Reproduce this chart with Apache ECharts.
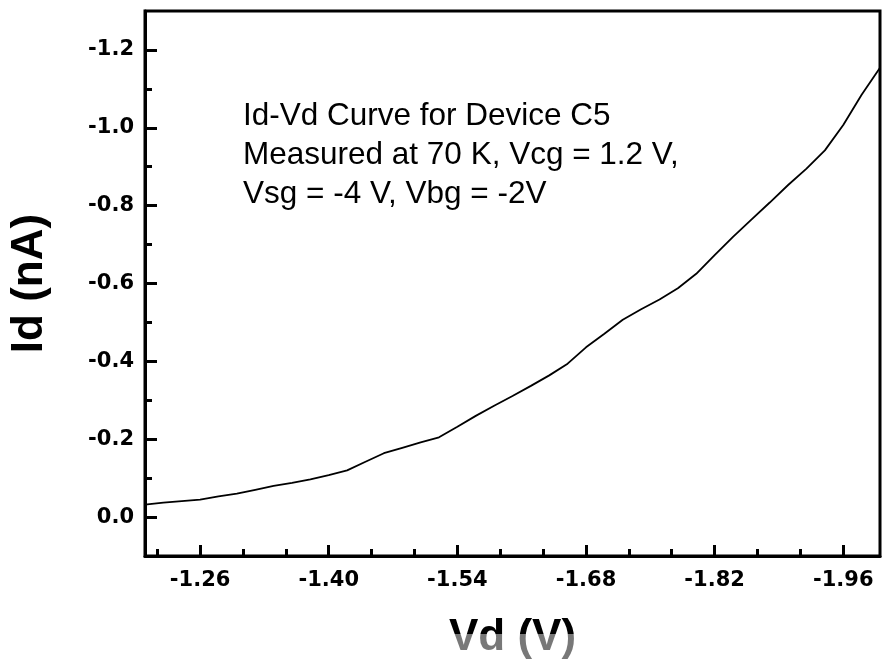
<!DOCTYPE html>
<html>
<head>
<meta charset="utf-8">
<script src="https://cdn.jsdelivr.net/npm/echarts@6/dist/echarts.min.js"></script>
<style>
  html, body { margin: 0; padding: 0; background: #fff; }
  #chart { width: 884px; height: 661px; }
</style>
</head>
<body>
<div id="chart"></div>
<script>
// Drain voltage sweep (V) and measured drain current (nA)
const vd = [
  -1.20, -1.22, -1.24, -1.26, -1.28, -1.30, -1.32, -1.34, -1.36, -1.38,
  -1.40, -1.42, -1.44, -1.46, -1.48, -1.50, -1.52, -1.54, -1.56, -1.58,
  -1.60, -1.62, -1.64, -1.66, -1.68, -1.70, -1.72, -1.74, -1.76, -1.78,
  -1.80, -1.82, -1.84, -1.86, -1.88, -1.90, -1.92, -1.94, -1.96, -1.98, -2.00
];
const id = [
  -0.032, -0.037, -0.041, -0.045, -0.053, -0.060, -0.070, -0.080, -0.088, -0.097,
  -0.108, -0.120, -0.142, -0.164, -0.178, -0.192, -0.205, -0.232, -0.260, -0.286,
  -0.311, -0.337, -0.364, -0.394, -0.436, -0.471, -0.507, -0.534, -0.559, -0.588,
  -0.625, -0.673, -0.720, -0.764, -0.808, -0.853, -0.895, -0.942, -1.007, -1.085, -1.154
];

// Axis ticks
const xMajorTicks = [-1.26, -1.40, -1.54, -1.68, -1.82, -1.96];
const xMinorTicks = [-1.2133, -1.3067, -1.3533, -1.4467, -1.4933, -1.5867,
                     -1.6333, -1.7267, -1.7733, -1.8667, -1.9133];
const yMajorTicks = [-1.2, -1.0, -0.8, -0.6, -0.4, -0.2, 0.0];
const yMinorTicks = [-1.1, -0.9, -0.7, -0.5, -0.3, -0.1];

// Annotation text
const noteLines = [
  'Id-Vd Curve for Device C5',
  'Measured at 70 K, Vcg = 1.2 V,',
  'Vsg = -4 V, Vbg = -2V'
];

const X_MIN = -2.0, X_MAX = -1.2;
const Y_MIN = -1.3, Y_MAX = 0.1;

const tickFont = {
  fontFamily: '"DejaVu Sans", sans-serif',
  fontWeight: 'bold',
  fontSize: 21,
  color: '#000'
};
const titleFont = {
  fontFamily: '"Liberation Sans", Arial, sans-serif',
  fontWeight: 'bold',
  fontSize: 44,
  color: '#000'
};

const chart = echarts.init(document.getElementById('chart'), null, { renderer: 'canvas' });

const option = {
  animation: false,
  backgroundColor: '#fff',
  grid: {
    left: 145, right: 4, top: 11, bottom: 105,
    outerBoundsMode: 'none',
    containLabel: false,
    show: true, borderColor: '#000', borderWidth: 3
  },
  xAxis: [
    {
      type: 'value', min: X_MIN, max: X_MAX, inverse: true, position: 'bottom',
      axisLine: { onZero: false, lineStyle: { color: '#000', width: 3 } },
      axisTick: { inside: true, length: 11, customValues: xMajorTicks,
                  lineStyle: { color: '#000', width: 3 } },
      axisLabel: Object.assign({ customValues: xMajorTicks, margin: 14,
                  formatter: v => v.toFixed(2) }, tickFont),
      splitLine: { show: false },
      name: 'Vd (V)', nameLocation: 'middle', nameGap: 60,
      nameTextStyle: titleFont
    },
    {
      type: 'value', min: X_MIN, max: X_MAX, inverse: true, position: 'bottom',
      axisLine: { show: false, onZero: false },
      axisTick: { inside: true, length: 7, customValues: xMinorTicks,
                  lineStyle: { color: '#000', width: 3 } },
      axisLabel: { show: false },
      splitLine: { show: false }
    }
  ],
  yAxis: [
    {
      type: 'value', min: Y_MIN, max: Y_MAX, inverse: true, position: 'left',
      axisLine: { onZero: false, lineStyle: { color: '#000', width: 3 } },
      axisTick: { inside: true, length: 12, customValues: yMajorTicks,
                  lineStyle: { color: '#000', width: 3 } },
      axisLabel: Object.assign({ customValues: yMajorTicks, margin: 11,
                  formatter: v => (Math.abs(v) < 1e-9 ? 0 : v).toFixed(1) }, tickFont),
      splitLine: { show: false },
      name: 'Id (nA)', nameLocation: 'middle', nameGap: 93, nameRotate: 90,
      nameTextStyle: titleFont
    },
    {
      type: 'value', min: Y_MIN, max: Y_MAX, inverse: true, position: 'left',
      axisLine: { show: false, onZero: false },
      axisTick: { inside: true, length: 7, customValues: yMinorTicks,
                  lineStyle: { color: '#000', width: 3 } },
      axisLabel: { show: false },
      splitLine: { show: false }
    }
  ],
  series: [
    {
      type: 'line',
      xAxisIndex: 0, yAxisIndex: 0,
      data: vd.map((v, i) => [v, id[i]]),
      showSymbol: false,
      smooth: false,
      lineStyle: { color: '#000', width: 1.8 },
      clip: true
    }
  ],
  graphic: noteLines.map((t, i) => ({
    type: 'text',
    x: 243,
    y: 116 + i * 39,
    style: {
      text: t,
      font: '31.5px "Liberation Sans", Arial, sans-serif',
      fill: '#000',
      textAlign: 'left',
      textVerticalAlign: 'middle'
    }
  })).concat([
    {
      // washed-out lower band across the x-axis title
      type: 'rect',
      z: 100,
      shape: { x: 440, y: 634, width: 150, height: 27 },
      style: { fill: 'rgba(255,255,255,0.47)' }
    }
  ])
};

chart.setOption(option);
</script>
</body>
</html>
